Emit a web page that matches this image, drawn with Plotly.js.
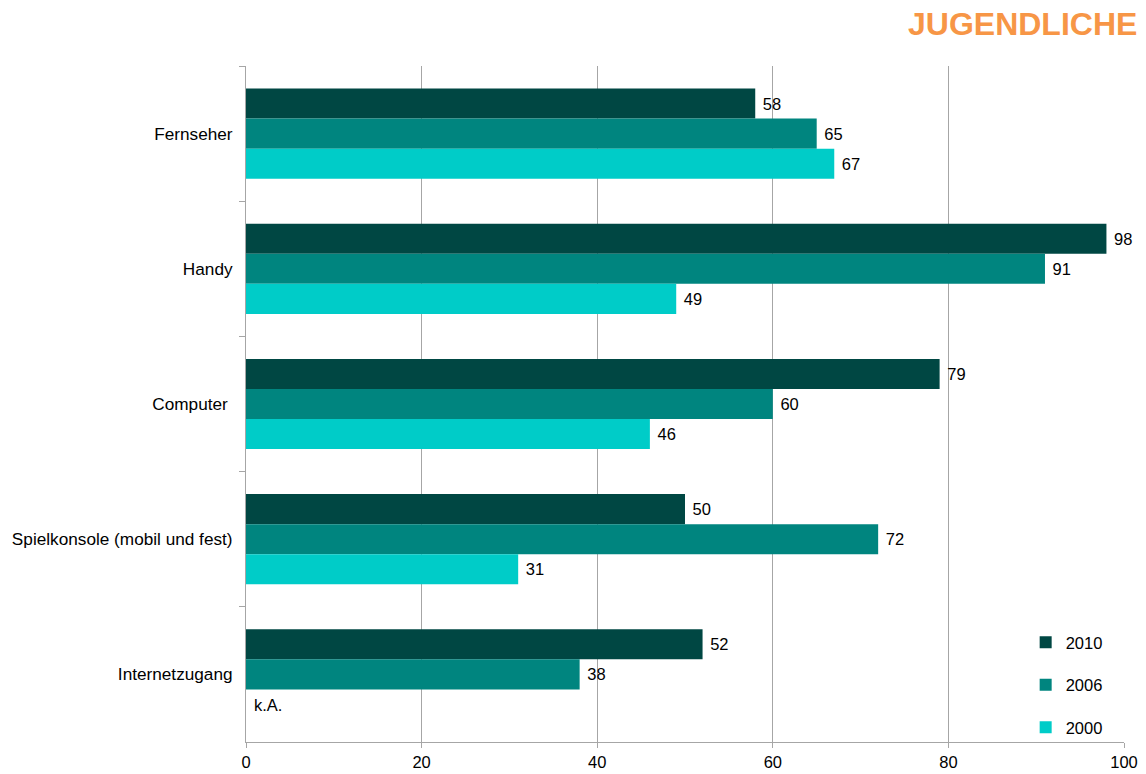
<!DOCTYPE html>
<html><head><meta charset="utf-8">
<script src="https://cdn.plot.ly/plotly-3.0.1.min.js"></script>
<style>html,body{margin:0;padding:0;background:#fff}#chart{width:1146px;height:774px}</style>
</head><body><div id="chart"></div>
<script>
const categories = ["Fernseher", "Handy", "Computer ", "Spielkonsole (mobil und fest)", "Internetzugang"];
const seriesNames = ["2010", "2006", "2000"];
const values2010 = [58, 98, 79, 50, 52];
const values2006 = [65, 91, 60, 72, 38];
const values2000 = [67, 49, 46, 31, null];
const missingLabel = "k.A.";
const xTicks = [0, 20, 40, 60, 80, 100];
const colors = ["#004743", "#00857F", "#00CCC8"];

const allValues = [values2010, values2006, values2000];
const font = {family: "Liberation Sans, Arial, sans-serif", size: 16.5, color: "#000"};
const catFont = {family: "Liberation Sans, Arial, sans-serif", size: 17.2, color: "#000"};

const traces = allValues.map((vals, i) => ({
  type: "bar",
  orientation: "h",
  name: seriesNames[i],
  y: categories,
  x: vals,
  text: vals.map(v => v == null ? "" : "\u00a0" + String(v)),
  textposition: "outside",
  cliponaxis: false,
  textfont: font,
  marker: {color: colors[i], line: {width: 0}},
  legendgroup: "g" + i,
  hoverinfo: "x+y+name"
}));

const annotations = [];
// label for missing values, placed at the missing bar's slot
allValues.forEach((vals, i) => {
  vals.forEach((v, j) => {
    if (v == null) {
      annotations.push({text: missingLabel, xref: "x", yref: "y", x: 0, xanchor: "left",
        y: j + (i - 1) * 0.2222, yanchor: "middle", showarrow: false, font: font, xshift: 6, yshift: -1});
    }
  });
});

annotations.push({
  text: "<b>JUGENDLICHE</b>", xref: "paper", yref: "paper", x: 1.0, y: 1,
  xanchor: "right", yanchor: "bottom", yshift: 22, xshift: 15, showarrow: false,
  font: {family: "Liberation Sans, Arial, sans-serif", size: 32, color: "#F79646"}
});

const layout = {
  width: 1146, height: 774,
  margin: {l: 246, r: 22, t: 66, b: 32, pad: 0},
  paper_bgcolor: "#fff", plot_bgcolor: "#fff",
  font: font,
  barmode: "group",
  bargap: 0.333,
  bargroupgap: 0,
  showlegend: true,
  legend: {
    x: 0.888, xanchor: "left", y: 0.173, yanchor: "top",
    font: font, bgcolor: "rgba(0,0,0,0)",
    traceorder: "grouped", tracegroupgap: 18, itemwidth: 30
  },
  xaxis: {
    range: [0, 100], tickvals: xTicks, ticktext: xTicks.map(String),
    showgrid: true, gridcolor: "#A6A6A6", gridwidth: 1,
    zeroline: false, showline: true, linecolor: "#A6A6A6", linewidth: 1,
    ticks: "outside", ticklen: 5, tickcolor: "#A6A6A6",
    tickfont: font, fixedrange: true
  },
  yaxis: {
    type: "category", categoryorder: "array", categoryarray: categories,
    autorange: "reversed",
    showline: true, linecolor: "#A6A6A6", linewidth: 1,
    ticks: "outside", tickson: "boundaries", ticklen: 6, tickcolor: "#A6A6A6",
    ticklabelstandoff: 9,
    showgrid: false, zeroline: false, tickfont: catFont, fixedrange: true
  },
  annotations: annotations
};

Plotly.newPlot("chart", traces, layout, {displayModeBar: false, staticPlot: true});
</script></body></html>
